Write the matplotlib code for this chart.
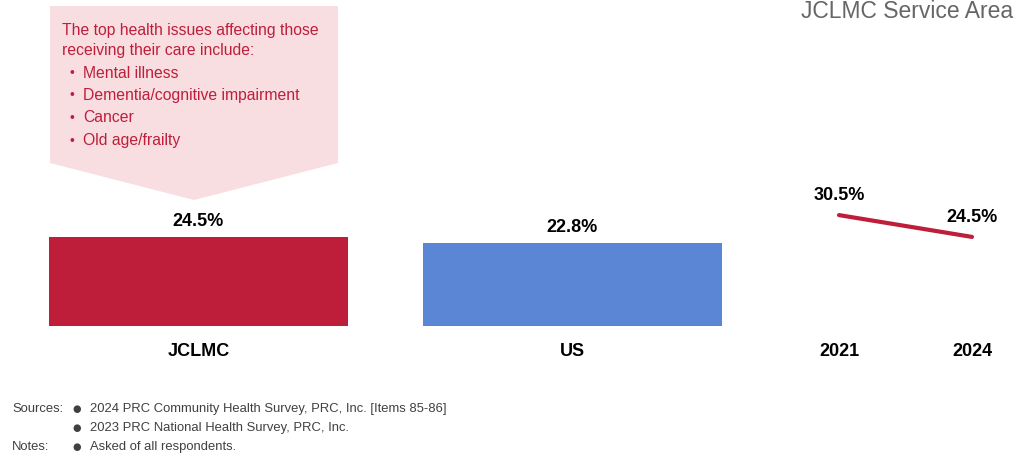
import matplotlib
matplotlib.use("Agg")
import matplotlib.pyplot as plt
from matplotlib.patches import Polygon
from matplotlib import font_manager

# data
bar_cats = ["JCLMC", "US"]
bar_vals = [24.5, 22.8]
bar_colors = ["#BE1E3A", "#5B86D6"]
trend_years = ["2021", "2024"]
trend_vals = [30.5, 24.5]
callout_items = ["Mental illness", "Dementia/cognitive impairment", "Cancer", "Old age/frailty"]
sources = ["2024 PRC Community Health Survey, PRC, Inc. [Items 85-86]",
           "2023 PRC National Health Survey, PRC, Inc."]
notes = ["Asked of all respondents."]

names = {f.name for f in font_manager.fontManager.ttflist}
narrow = "Liberation Sans Narrow" if "Liberation Sans Narrow" in names else "Liberation Sans"
plt.rcParams['font.family'] = ["Liberation Sans", "DejaVu Sans"]

W, H = 1020, 458
RED = "#BE1E3A"
fig = plt.figure(figsize=(W / 100, H / 100), dpi=100)


def fx(x):
    return x / W


def fy(y):
    return 1 - y / H


# common y scale: baseline at y=326 px, 0..55 spans 200 px
ymax = 55
ax_h = 200
base = 326

# bar chart axes
ax = fig.add_axes([fx(11.5), fy(base), 748 / W, ax_h / H])
ax.bar(range(len(bar_cats)), bar_vals, width=0.8, color=bar_colors)
for i, v in enumerate(bar_vals):
    ax.text(i, v + 2.0, f"{v}%", ha="center", va="bottom", fontsize=13,
            fontweight="bold", family=narrow)
ax.set_xlim(-0.5, 1.5)
ax.set_ylim(0, ymax)
ax.set_xticks(range(len(bar_cats)))
ax.set_xticklabels(bar_cats, fontsize=13, fontweight="bold", family=narrow)
ax.tick_params(axis="x", length=0, pad=12)
ax.set_yticks([])
for s in ax.spines.values():
    s.set_visible(False)
ax.patch.set_alpha(0)

# trend line axes
ax2 = fig.add_axes([fx(772.5), fy(base), 266 / W, ax_h / H])
xs = range(len(trend_years))
ax2.plot(xs, trend_vals, color=RED, lw=3, solid_capstyle="round")
for i, v in enumerate(trend_vals):
    ax2.text(i, v + 3.0, f"{v}%", ha="center", va="bottom", fontsize=13,
             fontweight="bold", family=narrow)
ax2.set_xlim(-0.5, 1.5)
ax2.set_ylim(0, ymax)
ax2.set_xticks(list(xs))
ax2.set_xticklabels(trend_years, fontsize=13, fontweight="bold", family=narrow)
ax2.tick_params(axis="x", length=0, pad=12)
ax2.set_yticks([])
for s in ax2.spines.values():
    s.set_visible(False)
ax2.patch.set_alpha(0)

# title, right at the top edge
fig.text(fx(1013), fy(18), "JCLMC Service Area", ha="right", va="baseline",
         fontsize=16.5, color="#666666")

# callout box
shape = [(50, 6), (338, 6), (338, 163), (194, 200), (50, 163)]
fig.patches.append(Polygon([(fx(x), fy(y)) for x, y in shape], closed=True,
                           transform=fig.transFigure, facecolor="#F9DEE1",
                           edgecolor="none", zorder=0))
fig.text(fx(62), fy(30), "The top health issues affecting those", ha="left",
         va="center", fontsize=11.3, color=RED)
fig.text(fx(62), fy(51), "receiving their care include:", ha="left",
         va="center", fontsize=11.3, color=RED)
for k, item in enumerate(callout_items):
    y = 73 + k * 22.5
    fig.text(fx(70), fy(y), "\u2022", ha="left", va="center", fontsize=10, color=RED)
    fig.text(fx(83), fy(y), item, ha="left", va="center", fontsize=11.3, color=RED)

# footer
foot = "#404040"
fig.text(fx(12), fy(409), "Sources:", ha="left", va="center", fontsize=9.4,
         color=foot, family=narrow)
fig.text(fx(12), fy(447), "Notes:", ha="left", va="center", fontsize=9.4,
         color=foot, family=narrow)
for k, line in enumerate(sources + notes):
    y = 409 + k * 19
    fig.text(fx(72), fy(y), "\u25cf", ha="left", va="center", fontsize=7,
             color=foot, family=["DejaVu Sans"])
    fig.text(fx(90), fy(y), line, ha="left", va="center", fontsize=9.4,
             color=foot, family=narrow)

fig.savefig("out.png", dpi=100)
